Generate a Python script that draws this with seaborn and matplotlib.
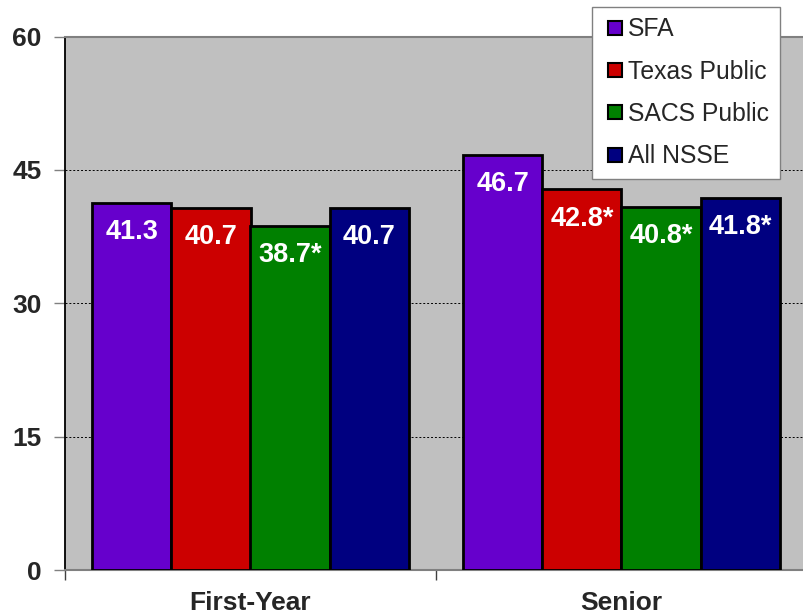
import matplotlib
matplotlib.use("Agg")
import matplotlib.pyplot as plt
from matplotlib.lines import Line2D
import seaborn as sns
import pandas as pd

# Survey groups and class levels
categories = ["First-Year", "Senior"]
groups = ["SFA", "Texas Public", "SACS Public", "All NSSE"]
first_year = [41.3, 40.7, 38.7, 40.7]
senior = [46.7, 42.8, 40.8, 41.8]
# significance flags (asterisk after value)
first_year_sig = [False, False, True, False]
senior_sig = [False, True, True, True]
colors = ["#6600CC", "#CC0000", "#008000", "#000080"]
y_ticks = [0, 15, 30, 45, 60]

rows = []
for cat, vals, sig in [(categories[0], first_year, first_year_sig),
                       (categories[1], senior, senior_sig)]:
    for g, v, s in zip(groups, vals, sig):
        rows.append({"level": cat, "group": g, "score": v,
                     "label": f"{v:.1f}" + ("*" if s else "")})
df = pd.DataFrame(rows)

sns.set_style("white")
plt.rcParams["font.family"] = ["Liberation Sans", "DejaVu Sans"]

fig = plt.figure(figsize=(8.04, 6.15), dpi=100)
ax = fig.add_axes([65 / 804, 1 - 570 / 615, 742 / 804, 533.5 / 615])
ax.set_facecolor("#C0C0C0")

sns.barplot(data=df, x="level", y="score", hue="group", order=categories,
            hue_order=groups, palette=colors, width=0.854, gap=0,
            edgecolor="black", linewidth=2, saturation=1, ax=ax,
            legend=False, errorbar=None, zorder=3)

ax.set_ylim(0, 60)
ax.set_xlim(-0.5, 1.5)
ax.set_yticks(y_ticks)
ax.set_yticklabels([str(t) for t in y_ticks], fontsize=19, fontweight="bold")
ax.tick_params(axis="y", length=8, width=1, color="#808080", pad=9, left=True)

# category separators as major ticks, names on minor ticks at centers
ax.set_xticks([-0.5, 0.5, 1.5])
ax.set_xticklabels([])
ax.set_xticks([0, 1], minor=True)
ax.set_xticklabels(categories, minor=True, fontsize=19, fontweight="bold")
ax.tick_params(axis="x", which="major", length=7, width=1, color="#404040",
               bottom=True)
ax.tick_params(axis="x", which="minor", length=0, pad=15)
ax.set_xlabel("")
ax.set_ylabel("")

for y in y_ticks[1:-1]:
    ax.axhline(y, color="black", linestyle=(0, (2, 2)), linewidth=0.7, zorder=1)

for side in ["top", "bottom"]:
    ax.spines[side].set_color("#808080")
    ax.spines[side].set_linewidth(1.5)
ax.spines["left"].set_color("black")
ax.spines["left"].set_linewidth(1.3)
ax.spines["right"].set_visible(False)

# value labels inside the top of each bar
for container, g in zip(ax.containers, groups):
    for bar, cat in zip(container, categories):
        lab = df[(df.group == g) & (df.level == cat)]["label"].iloc[0]
        ax.annotate(lab, (bar.get_x() + bar.get_width() / 2, bar.get_height()),
                    xytext=(0, -21), textcoords="offset points",
                    ha="center", va="center", color="white",
                    fontsize=19.5, fontweight="bold", zorder=5)

handles = [Line2D([], [], linestyle="none", marker="s", markersize=9.5,
                  markerfacecolor=c, markeredgecolor="black",
                  markeredgewidth=1.5) for c in colors]
leg = fig.legend(handles, groups, loc="upper left",
                 bbox_to_anchor=(592 / 804, 1 - 7 / 615),
                 bbox_transform=fig.transFigure, frameon=True, fancybox=False,
                 framealpha=1, edgecolor="#808080", fontsize=17.8,
                 handlelength=1.0, handletextpad=0.05,
                 labelspacing=0.74, borderpad=0.42, borderaxespad=0)
leg.get_frame().set_linewidth(1)

fig.savefig("out.png", dpi=100)
